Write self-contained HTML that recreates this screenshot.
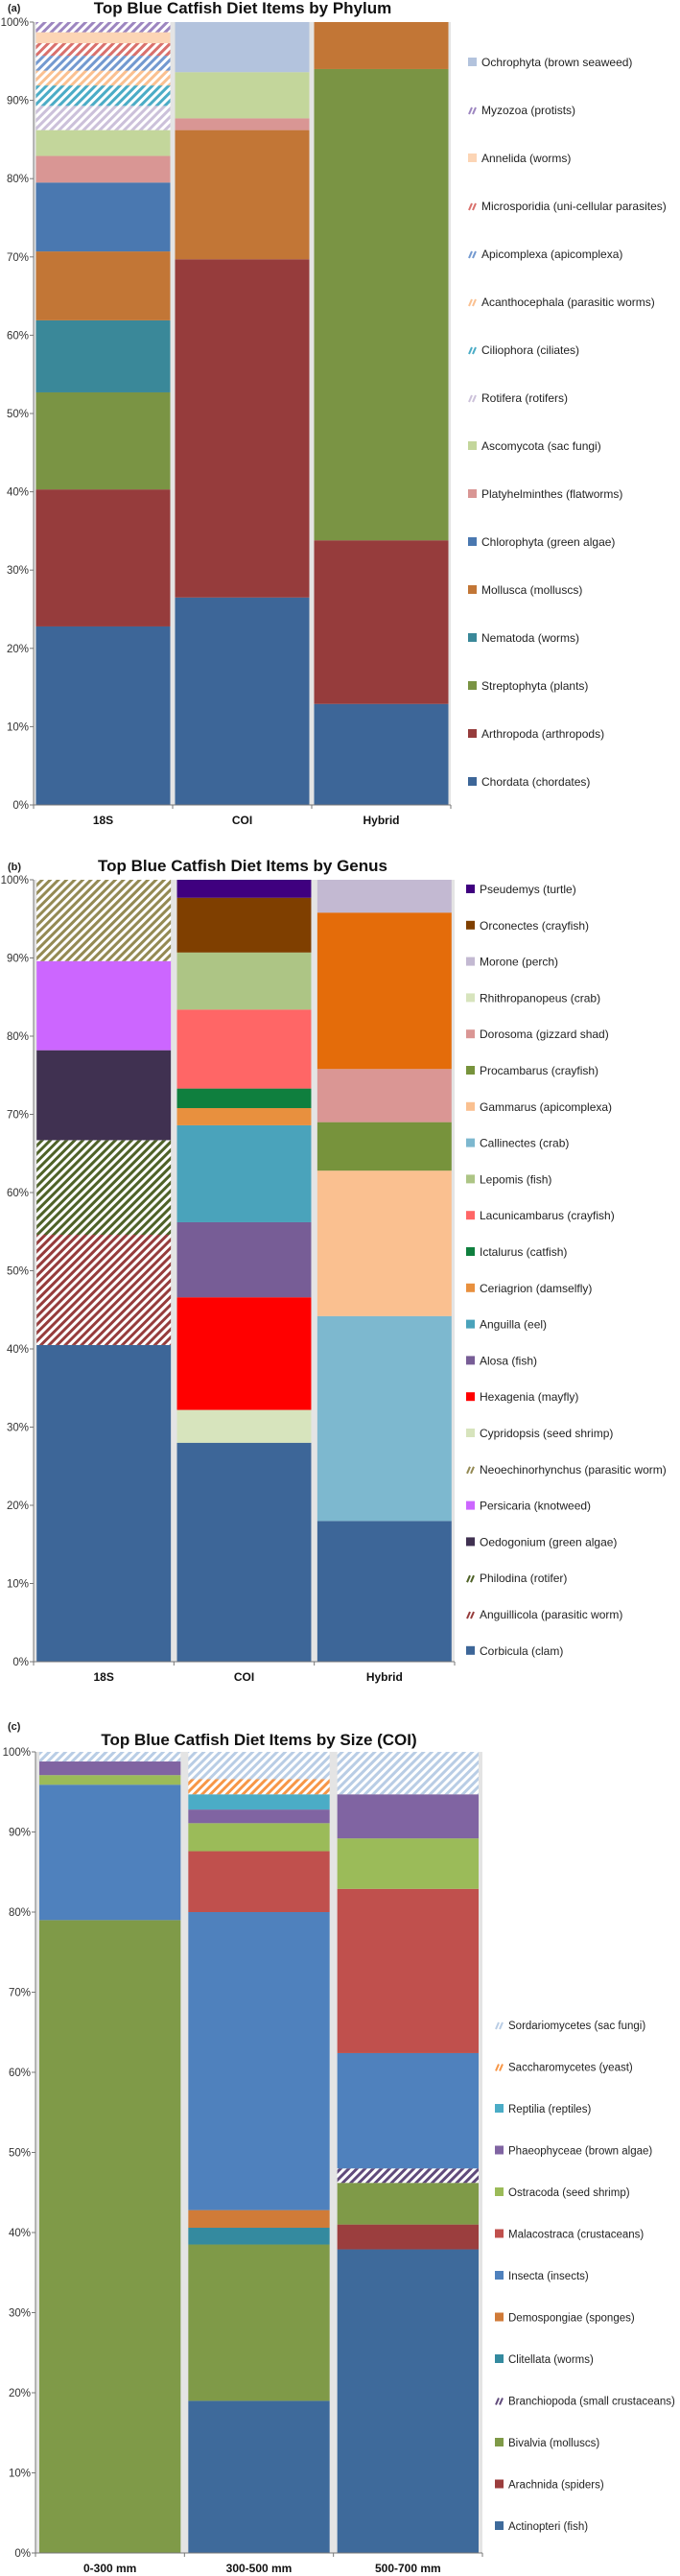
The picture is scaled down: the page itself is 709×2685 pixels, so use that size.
<!DOCTYPE html>
<html><head><meta charset="utf-8"><style>
html,body{margin:0;padding:0;background:#fff;}
svg{display:block;font-family:"Liberation Sans",Arial,sans-serif;}
</style></head><body>
<svg id="fig" width="709" height="2685" viewBox="0 0 709 2685" xmlns="http://www.w3.org/2000/svg"><defs id="defs"></defs></svg>
<script>
// ---------- Chart (a) data ----------
const phylumCategories = ["18S", "COI", "Hybrid"];
const phylumSeries = ["Chordata (chordates)","Arthropoda (arthropods)","Streptophyta (plants)","Nematoda (worms)","Mollusca (molluscs)","Chlorophyta (green algae)","Platyhelminthes (flatworms)","Ascomycota (sac fungi)","Rotifera (rotifers)","Ciliophora (ciliates)","Acanthocephala (parasitic worms)","Apicomplexa (apicomplexa)","Microsporidia (uni-cellular parasites)","Annelida (worms)","Myzozoa (protists)","Ochrophyta (brown seaweed)"];
const phylum18S    = [22.8,17.5,12.4,9.2,8.8,8.8,3.4,3.3,3.1,2.6,1.9,1.9,1.6,1.4,1.3,0];
const phylumCOI    = [26.5,43.2,0,0,16.5,0,1.5,5.9,0,0,0,0,0,0,0,6.4];
const phylumHybrid = [12.9,20.9,60.2,0,6.0,0,0,0,0,0,0,0,0,0,0,0];
const phylumTicks = ["0%","10%","20%","30%","40%","50%","60%","70%","80%","90%","100%"];

// ---------- Chart (b) data ----------
const genusCategories = ["18S", "COI", "Hybrid"];
const genusSeries = ["Corbicula (clam)","Anguillicola (parasitic worm)","Philodina (rotifer)","Oedogonium (green algae)","Persicaria (knotweed)","Neoechinorhynchus (parasitic worm)","Cypridopsis (seed shrimp)","Hexagenia (mayfly)","Alosa (fish)","Anguilla (eel)","Ceriagrion (damselfly)","Ictalurus (catfish)","Lacunicambarus (crayfish)","Lepomis (fish)","Callinectes (crab)","Gammarus (apicomplexa)","Procambarus (crayfish)","Dorosoma (gizzard shad)","Rhithropanopeus (crab)","Other","Morone (perch)","Orconectes (crayfish)","Pseudemys (turtle)"];
const genus18S    = [40.5,14.1,12.1,11.5,11.4,10.4,0,0,0,0,0,0,0,0,0,0,0,0,0,0,0,0,0];
const genusCOI    = [28,0,0,0,0,0,4.2,14.4,9.6,12.4,2.2,2.5,10.1,7.3,0,0,0,0,0,0,0,7.0,2.3];
const genusHybrid = [18,0,0,0,0,0,0,0,0,0,0,0,0,0,26.2,18.6,6.2,6.8,0,20.0,4.2,0,0];
const genusTicks = ["0%","10%","20%","30%","40%","50%","60%","70%","80%","90%","100%"];

// ---------- Chart (c) data ----------
const sizeCategories = ["0-300 mm", "300-500 mm", "500-700 mm"];
const sizeSeries = ["Actinopteri (fish)","Arachnida (spiders)","Bivalvia (molluscs)","Branchiopoda (small crustaceans)","Clitellata (worms)","Demospongiae (sponges)","Insecta (insects)","Malacostraca (crustaceans)","Ostracoda (seed shrimp)","Phaeophyceae (brown algae)","Reptilia (reptiles)","Saccharomycetes (yeast)","Sordariomycetes (sac fungi)"];
const size0to300   = [0,0,79.0,0,0,0,16.9,0,1.2,1.7,0,0,1.2];
const size300to500 = [19.0,0,19.5,0,2.1,2.2,37.2,7.6,3.5,1.7,1.9,1.9,3.4];
const size500to700 = [37.9,3.1,5.2,1.8,0,0,14.4,20.5,6.3,5.5,0,0,5.3];
const sizeTicks = ["0%","10%","20%","30%","40%","50%","60%","70%","80%","90%","100%"];

// ---------- styles (not data) ----------
const phylumStyle = [["#3d6698",0],["#963c3c",0],["#7a9444",0],["#3a8899",0],["#c27636",0],["#4a78b0",0],["#d99694",0],["#c3d69b",0],["#ccc1da",1],["#4bacc6",1],["#fac090",1],["#7399d0",1],["#d9706c",1],["#fcd5b5",0],["#9d86c0",1],["#b3c3dd",0]];
const genusStyle = [["#3d6698",0],["#963c3c",1],["#4f6228",1],["#403151",0],["#cc66ff",0],["#948a54",1],["#d7e4bd",0],["#ff0000",0],["#775d96",0],["#4aa3bb",0],["#e8903e",0],["#0f7f3e",0],["#ff6666",0],["#adc585",0],["#7db8cf",0],["#fac090",0],["#77933c",0],["#da9694",0],["#d7e4bd",0],["#e46c0a",0],["#c3b9d2",0],["#7f3f00",0],["#3f007f",0]];
const sizeStyle = [["#3e6a9b",0],["#9b3e3e",0],["#7f9a48",0],["#604a7b",1],["#348a9f",0],["#d07b38",0],["#4f81bd",0],["#c0504d",0],["#9bbb59",0],["#8064a2",0],["#4bacc6",0],["#f79646",1],["#b9cde5",1]];

const NS = "http://www.w3.org/2000/svg";
const svg = document.getElementById("fig");
const defs = document.getElementById("defs");
let patId = 0;
function mk(tag, attrs, parent) {
  const e = document.createElementNS(NS, tag);
  for (const k in attrs) e.setAttribute(k, attrs[k]);
  (parent || svg).appendChild(e);
  return e;
}
function hatch(color) {
  const id = "h" + (patId++);
  const p = mk("pattern", {id: id, width: 6, height: 6, patternUnits: "userSpaceOnUse", patternTransform: "rotate(45)"}, defs);
  mk("rect", {x: 0, y: 0, width: 6, height: 6, fill: "#fff"}, p);
  mk("rect", {x: 0, y: 0, width: 3, height: 6, fill: color}, p);
  return "url(#" + id + ")";
}

function drawChart(cfg) {
  const g = mk("g", {});
  
  
  const yScale = v => cfg.y0 - (v / 100) * (cfg.y0 - cfg.y100);
  const band = (cfg.x1 - cfg.x0) / cfg.categories.length;
  const xBand = i => cfg.x0 + i * band;
  const fills = cfg.style.map(s => s[1] ? hatch(s[0]) : s[0]);
  const pl = mk("text", {x: 8, y: cfg.labelY, "font-size": 11, "font-weight": "bold", fill: "#222"}, g);
  pl.textContent = cfg.panel;
  
  
  const t = mk("text", {x: cfg.titleX, y: cfg.titleY, "font-size": 17, "font-weight": "bold", "text-anchor": "middle", fill: "#111"}, g);
  t.textContent = cfg.title;
  
  
  const bg = mk("rect", {x: cfg.x0, y: cfg.y100, width: cfg.x1 - cfg.x0, height: cfg.y0 - cfg.y100, fill: "#e4e4e4"}, g);
  
  
  cfg.values.forEach((vals, ci) => {
    let cum = 0;
    const bx = xBand(ci) + cfg.inset, bw = band - 2 * cfg.inset;
    vals.forEach((v, si) => {
      if (v <= 0) { return; }
      const yTop = yScale(cum + v), yBot = yScale(cum);
      const r = mk("rect", {x: bx, y: yTop, width: bw, height: yBot - yTop, fill: fills[si]}, g);
      
      
      cum += v;
    });
    const xl = mk("text", {x: xBand(ci) + band / 2, y: cfg.y0 + 20, "font-size": 12, "font-weight": "bold", "text-anchor": "middle", fill: "#111"}, g);
    xl.textContent = cfg.categories[ci];
    
    
  });
  mk("line", {x1: cfg.x0, y1: cfg.y100, x2: cfg.x0, y2: cfg.y0, stroke: "#777", "stroke-width": 1}, g);
  mk("line", {x1: cfg.x0, y1: cfg.y0, x2: cfg.x1, y2: cfg.y0, stroke: "#777", "stroke-width": 1}, g);
  for (let i = 0; i <= cfg.categories.length; i++) {
    mk("line", {x1: xBand(i), y1: cfg.y0, x2: xBand(i), y2: cfg.y0 + 4, stroke: "#777"}, g);
  }
  cfg.ticks.forEach((lab, i) => {
    const y = yScale(i * 10);
    mk("line", {x1: cfg.x0 - 4, y1: y, x2: cfg.x0, y2: y, stroke: "#777"}, g);
    const tl = mk("text", {x: cfg.x0 - 5, y: y + 4, "font-size": 11.5, "text-anchor": "end", fill: "#333"}, g);
    tl.textContent = lab;
    
    
  });
  let k = 0;
  for (let si = cfg.series.length - 1; si >= 0; si--) {
    if (cfg.skip && cfg.skip.indexOf(si) >= 0) continue;
    const ly = cfg.legY + k * cfg.legStep;
    const lg = mk("g", {}, g);
    
    
    if (cfg.style[si][1]) {
      mk("line", {x1: cfg.legX + 1, y1: ly + 4, x2: cfg.legX + 4, y2: ly - 3, stroke: cfg.style[si][0], "stroke-width": 2}, lg);
      mk("line", {x1: cfg.legX + 5, y1: ly + 4, x2: cfg.legX + 8, y2: ly - 3, stroke: cfg.style[si][0], "stroke-width": 2}, lg);
    } else {
      mk("rect", {x: cfg.legX, y: ly - 5, width: 9, height: 9, fill: cfg.style[si][0]}, lg);
    }
    const tx = mk("text", {x: cfg.legX + 14, y: ly + 4, "font-size": cfg.legFont, fill: "#222"}, lg);
    tx.textContent = cfg.series[si];
    k++;
  }
}

drawChart({name: "phylum-chart", panel: "(a)", title: "Top Blue Catfish Diet Items by Phylum",
  labelY: 12, titleX: 253, titleY: 14, x0: 35, x1: 470, y100: 23, y0: 839, inset: 2.5,
  categories: phylumCategories, series: phylumSeries, values: [phylum18S, phylumCOI, phylumHybrid],
  ticks: phylumTicks, style: phylumStyle, legX: 488, legY: 65, legStep: 50, legFont: 12});

drawChart({name: "genus-chart", panel: "(b)", title: "Top Blue Catfish Diet Items by Genus",
  labelY: 907, titleX: 253, titleY: 908, x0: 35, x1: 474, y100: 917, y0: 1732, inset: 3.2,
  categories: genusCategories, series: genusSeries, values: [genus18S, genusCOI, genusHybrid],
  ticks: genusTicks, style: genusStyle, legX: 486, legY: 927, legStep: 37.8, legFont: 12, skip: [19]});

drawChart({name: "size-chart", panel: "(c)", title: "Top Blue Catfish Diet Items by Size (COI)",
  labelY: 1803, titleX: 270, titleY: 1819, x0: 37, x1: 503, y100: 1826, y0: 2661, inset: 4,
  categories: sizeCategories, series: sizeSeries, values: [size0to300, size300to500, size500to700],
  ticks: sizeTicks, style: sizeStyle, legX: 516, legY: 2111, legStep: 43.5, legFont: 11.5});
</script>
</body></html>
